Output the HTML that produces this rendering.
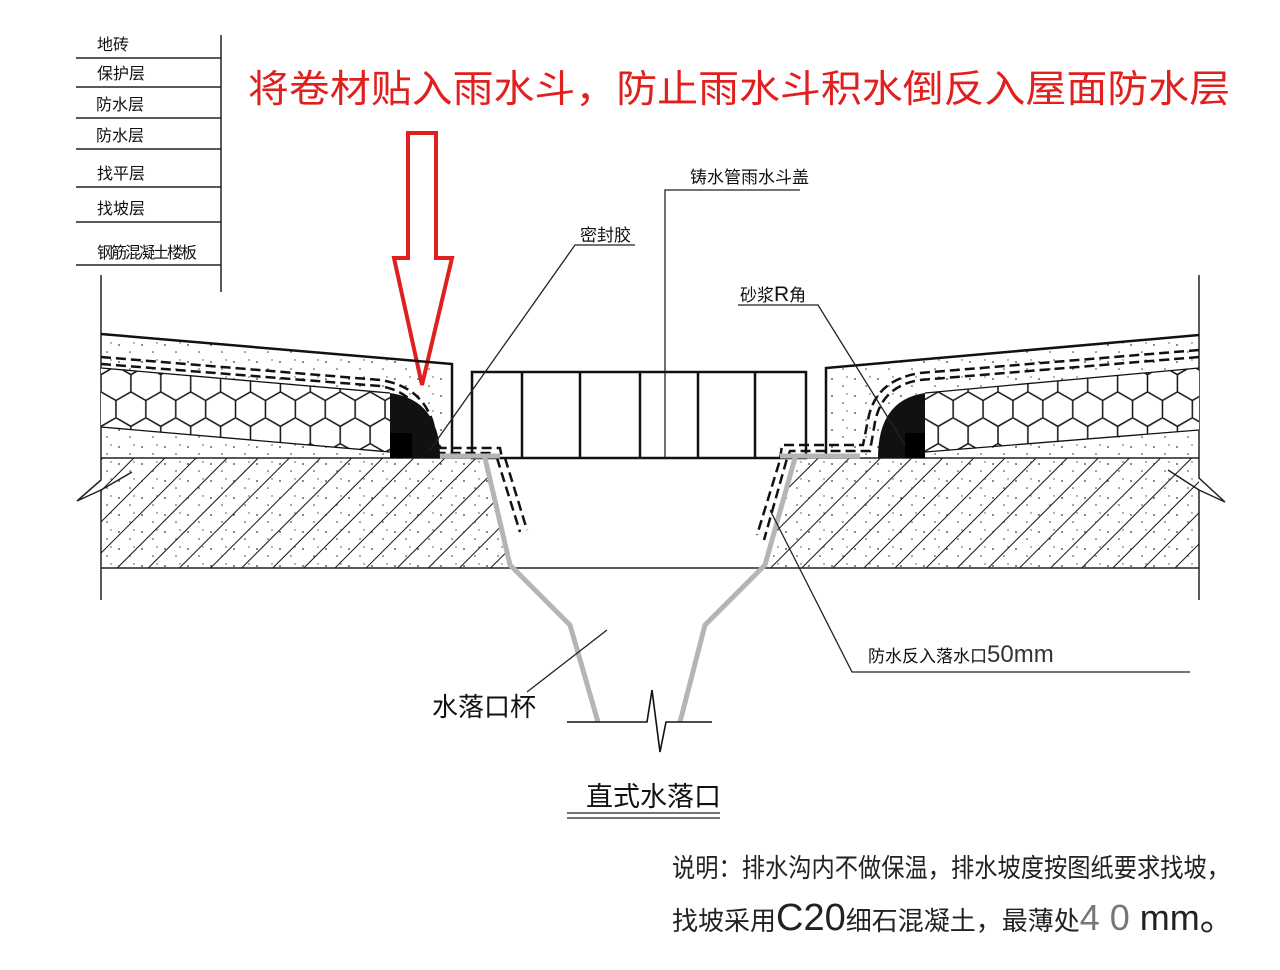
<!DOCTYPE html>
<html><head><meta charset="utf-8"><style>
html,body{margin:0;padding:0;background:#fff;}
svg{display:block;}
text{font-family:"Liberation Sans","Noto Sans CJK SC",sans-serif;}
</style></head><body>
<svg width="1280" height="970" viewBox="0 0 1280 970" xmlns="http://www.w3.org/2000/svg">
<defs>
<pattern id="hex" width="26" height="45" patternUnits="userSpaceOnUse" patternTransform="translate(101,366) scale(1.15)">
<path d="M0,7.5 L13,0 L26,7.5 M0,22.5 L13,30 L26,22.5 M0,7.5 L0,22.5 M26,7.5 L26,22.5 M13,30 L13,45" fill="none" stroke="#111" stroke-width="1.3"/>
</pattern>
<pattern id="hatch" width="22" height="22" patternUnits="userSpaceOnUse" patternTransform="rotate(45)">
<line x1="0" y1="0" x2="0" y2="22" stroke="#111" stroke-width="2"/>
</pattern>
<pattern id="dots" width="23" height="17" patternUnits="userSpaceOnUse">
<circle cx="4" cy="5" r="0.9" fill="#333"/><circle cx="15" cy="12" r="0.8" fill="#333"/><circle cx="19" cy="3" r="0.7" fill="#444"/>
</pattern>
</defs>

<g stroke="#222" stroke-width="1.5">
<line x1="221" y1="35" x2="221" y2="292"/>
<line x1="76" y1="58" x2="221" y2="58"/>
<line x1="76" y1="87" x2="221" y2="87"/>
<line x1="76" y1="118" x2="221" y2="118"/>
<line x1="76" y1="149" x2="221" y2="149"/>
<line x1="76" y1="187" x2="221" y2="187"/>
<line x1="76" y1="222" x2="221" y2="222"/>
<line x1="76" y1="265" x2="221" y2="265"/>
</g>
<g font-size="16" fill="#111">
<text x="97" y="50">地砖</text>
<text x="97" y="79">保护层</text>
<text x="96" y="110">防水层</text>
<text x="96" y="141">防水层</text>
<text x="97" y="179">找平层</text>
<text x="97" y="214">找坡层</text>
<text x="97" y="258" textLength="100">钢筋混凝土楼板</text>
</g>

<text x="248" y="102" font-size="38" fill="#e0201e" textLength="982" lengthAdjust="spacingAndGlyphs">将卷材贴入雨水斗，防止雨水斗积水倒反入屋面防水层</text>
<path d="M408,133 L436,133 L436,258 L452,258 L422,385 L394,258 L408,258 Z" fill="none" stroke="#e0201e" stroke-width="4"/>

<g stroke="#222" stroke-width="1.5" fill="none">
<path d="M101,275 L101,480 L77,501 L101,490 L101,600"/>
<line x1="101" y1="490" x2="132" y2="472"/>
<path d="M1199,275 L1199,478 L1225,502 L1199,490 L1199,600"/>
<line x1="1199" y1="490" x2="1168" y2="470"/>
</g>

<polygon points="101,458 485,458 510,568 101,568" fill="url(#hatch)"/>
<polygon points="101,458 485,458 510,568 101,568" fill="url(#dots)"/>
<polygon points="795,458 1199,458 1199,568 768,568" fill="url(#hatch)"/>
<polygon points="795,458 1199,458 1199,568 768,568" fill="url(#dots)"/>
<g stroke="#222" stroke-width="1.6">
<line x1="101" y1="458" x2="472" y2="458"/>
<line x1="806" y1="458" x2="1199" y2="458"/>
<line x1="101" y1="568" x2="1199" y2="568"/>
</g>

<polygon points="101,334 452,364 452,458 101,458" fill="url(#dots)"/>
<polygon points="101,368 390,393 390,452 101,427" fill="#fff"/>
<polygon points="101,368 390,393 390,452 101,427" fill="url(#hex)"/>
<g stroke="#111" stroke-width="1.3" fill="none">
<line x1="101" y1="368" x2="390" y2="393"/>
<line x1="101" y1="427" x2="390" y2="452"/>
</g>
<path d="M390,393 Q440,400 440,458 L390,458 Z" fill="#111"/>
<rect x="390" y="433" width="22" height="25" fill="#000"/>
<g stroke="#111" stroke-width="2.5" fill="none" stroke-dasharray="10,5">
<path d="M101,357 L380,380 Q420,386 432,420 L440,448 L500,448 L502,458"/>
<path d="M101,364 L380,386 Q414,392 425,422 L433,453 L492,453"/>
<path d="M497,458 L520,532"/><path d="M505,458 L527,530"/>
</g>
<path d="M101,334 L452,364 L452,458" stroke="#111" stroke-width="2.5" fill="none"/>

<polygon points="826,368 1199,335 1199,458 826,458" fill="url(#dots)"/>
<polygon points="925,393 1199,368 1199,430 925,452" fill="#fff"/>
<polygon points="925,393 1199,368 1199,430 925,452" fill="url(#hex)"/>
<g stroke="#111" stroke-width="1.3" fill="none">
<line x1="925" y1="393" x2="1199" y2="368"/>
<line x1="925" y1="452" x2="1199" y2="430"/>
</g>
<path d="M925,393 Q878,400 878,458 L925,458 Z" fill="#111"/>
<rect x="905" y="433" width="20" height="25" fill="#000"/>
<g stroke="#111" stroke-width="2.5" fill="none" stroke-dasharray="10,5">
<path d="M1199,350 L920,373 Q875,380 868,420 L863,445 L782,445 L780,460 L757,535"/>
<path d="M1199,357 L920,380 Q882,386 875,422 L870,451 L790,451 L786,462 L764,540"/>
</g>
<path d="M826,458 L826,368 L1199,335" stroke="#111" stroke-width="2.5" fill="none"/>

<g stroke="#111" stroke-width="2.5" fill="none">
<rect x="472" y="372" width="334" height="86"/>
<line x1="522" y1="372" x2="522" y2="458"/>
<line x1="580" y1="372" x2="580" y2="458"/>
<line x1="640" y1="372" x2="640" y2="458"/>
<line x1="698" y1="372" x2="698" y2="458"/>
<line x1="755" y1="372" x2="755" y2="458"/>
</g>

<g stroke="#b5b5b5" stroke-width="5" fill="none">
<path d="M485,458 L510,565 L570,625 L598,722"/>
<path d="M795,458 L765,565 L705,625 L680,722"/>
<line x1="440" y1="456" x2="500" y2="456"/>
<line x1="780" y1="456" x2="860" y2="456"/>
</g>
<path d="M567,722 L647,722 L652,690 L660,752 L666,722 L712,722" stroke="#111" stroke-width="1.6" fill="none"/>

<g stroke="#222" stroke-width="1.3" fill="none">
<path d="M635,245 L575,245 L430,450"/>
<path d="M800,190 L665,190 L665,458"/>
<path d="M738,305 L818,305 L905,445"/>
<path d="M1190,672 L852,672 L770,510"/>
<path d="M527,692 L607,630"/>
<line x1="567" y1="813" x2="720" y2="813"/>
<line x1="567" y1="818" x2="720" y2="818"/>
</g>
<g fill="#111">
<text x="580" y="241" font-size="17">密封胶</text>
<text x="690" y="183" font-size="17">铸水管雨水斗盖</text>
<text x="740" y="301" font-size="17">砂浆<tspan font-size="21">R</tspan>角</text>
<text x="868" y="662" font-size="17">防水反入落水口<tspan font-size="24" fill="#333">50mm</tspan></text>
<text x="432" y="716" font-size="26">水落口杯</text>
<text x="586" y="806" font-size="27">直式水落口</text>
<text x="672" y="877" font-size="26" fill="#222" textLength="558" lengthAdjust="spacingAndGlyphs">说明：排水沟内不做保温，排水坡度按图纸要求找坡，</text>
<text x="672" y="930" font-size="26" fill="#222">找坡采用<tspan font-size="38">C20</tspan>细石混凝土，最薄处<tspan font-size="36" fill="#777">4 0</tspan><tspan font-size="36"> mm。</tspan></text>
</g>
</svg>
</body></html>
